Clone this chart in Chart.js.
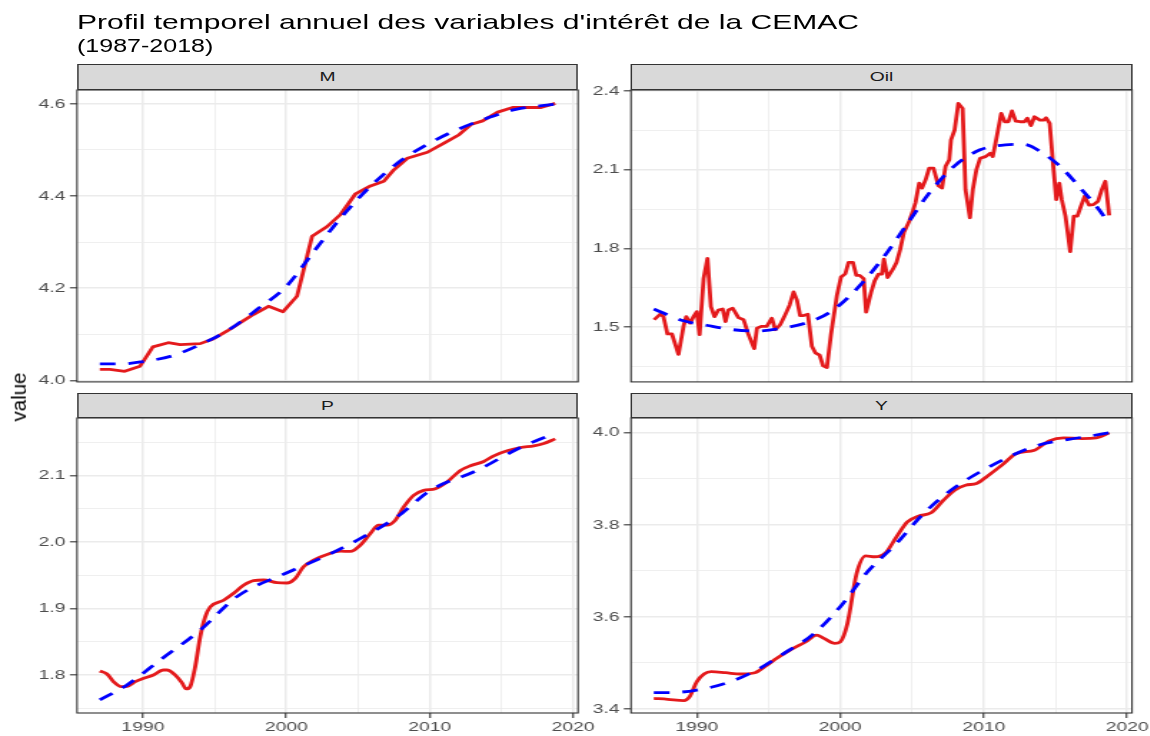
<!DOCTYPE html>
<html><head><meta charset="utf-8">
<script src="https://cdn.jsdelivr.net/npm/chart.js@4"></script>
<style>
html,body{margin:0;padding:0;background:#fff;width:1150px;height:736px;overflow:hidden;font-family:"Liberation Sans",Arial,sans-serif;}
#stage{position:absolute;left:0;top:0;width:805px;height:736px;transform:scaleX(1.43);transform-origin:0 0;}
canvas{position:absolute;}
.strip{position:absolute;box-sizing:border-box;background:#D9D9D9;border:1px solid #333;color:#1A1A1A;font-size:13.5px;text-align:center;z-index:2;}
.txt{position:absolute;white-space:nowrap;color:#000;}
#ylab{position:absolute;left:19px;top:397px;font-size:20.5px;line-height:20.5px;transform:translate(-50%,-50%) rotate(-90deg);white-space:nowrap;color:#000;}
</style></head>
<body>
<div id="stage">
  <div class="txt" style="left:53.85px;top:10.5px;font-size:21px;line-height:21px;">Profil temporel annuel des variables d'intérêt de la CEMAC</div>
  <div class="txt" style="left:53.85px;top:38px;font-size:17.5px;line-height:17.5px;">(1987-2018)</div>
</div>
<div id="ylab">value</div>
<script>
// ---- data ----
const mYears = [1987.0, 1987.7, 1988.74, 1989.8, 1990.7, 1991.77, 1992.6, 1994.0, 1994.9, 1995.85, 1996.77, 1997.7, 1998.76, 1999.77, 2000.75, 2001.8, 2002.85, 2003.78, 2004.83, 2005.87, 2006.8, 2007.5, 2008.44, 2009.84, 2011.0, 2012.05, 2012.87, 2013.69, 2014.74, 2015.78, 2017.76, 2018.75];
const mValues = [4.024, 4.024, 4.020, 4.031, 4.073, 4.082, 4.078, 4.080, 4.090, 4.107, 4.125, 4.143, 4.161, 4.149, 4.183, 4.313, 4.334, 4.360, 4.405, 4.422, 4.432, 4.457, 4.482, 4.495, 4.515, 4.533, 4.555, 4.563, 4.582, 4.592, 4.592, 4.601];
const mTrendYears = [1987, 1988.5, 1990, 1992, 1994, 1996, 1998, 2000, 2002, 2004, 2006, 2008, 2010, 2012, 2014, 2016, 2018.75];
const mTrendValues = [4.036, 4.036, 4.041, 4.053, 4.078, 4.110, 4.155, 4.204, 4.283, 4.360, 4.425, 4.477, 4.515, 4.545, 4.569, 4.588, 4.599];

const oilYears = [1987.02, 1987.44, 1987.67, 1987.95, 1988.26, 1988.72, 1989.07, 1989.26, 1989.53, 1989.77, 1990.0, 1990.19, 1990.47, 1990.74, 1990.98, 1991.23, 1991.5, 1991.8, 1992.0, 1992.2, 1992.5, 1992.9, 1993.26, 1993.6, 1994.0, 1994.19, 1994.53, 1994.88, 1995.23, 1995.47, 1995.81, 1996.1, 1996.47, 1996.74, 1996.98, 1997.2, 1997.44, 1997.74, 1998.02, 1998.26, 1998.56, 1998.8, 1999.07, 1999.35, 1999.77, 2000.05, 2000.35, 2000.58, 2000.88, 2001.12, 2001.35, 2001.63, 2001.8, 2002.15, 2002.4, 2002.66, 2002.9, 2003.04, 2003.3, 2003.67, 2003.92, 2004.18, 2004.43, 2004.81, 2005.06, 2005.24, 2005.5, 2005.7, 2005.95, 2006.2, 2006.5, 2006.84, 2007.09, 2007.34, 2007.6, 2007.72, 2007.97, 2008.23, 2008.53, 2008.73, 2009.04, 2009.24, 2009.49, 2009.75, 2010.13, 2010.46, 2010.63, 2010.89, 2011.22, 2011.47, 2011.72, 2011.97, 2012.23, 2012.53, 2012.84, 2013.04, 2013.29, 2013.54, 2013.92, 2014.18, 2014.35, 2014.6, 2014.81, 2015.06, 2015.27, 2015.44, 2015.7, 2016.03, 2016.28, 2016.53, 2016.78, 2017.04, 2017.34, 2017.65, 2017.97, 2018.23, 2018.48, 2018.75];
const oilValues = [1.528, 1.549, 1.540, 1.474, 1.474, 1.396, 1.503, 1.540, 1.515, 1.540, 1.559, 1.471, 1.685, 1.762, 1.578, 1.540, 1.565, 1.569, 1.521, 1.565, 1.572, 1.536, 1.528, 1.471, 1.418, 1.496, 1.503, 1.503, 1.534, 1.490, 1.509, 1.540, 1.584, 1.634, 1.603, 1.544, 1.544, 1.549, 1.427, 1.402, 1.393, 1.352, 1.346, 1.471, 1.622, 1.691, 1.703, 1.747, 1.747, 1.697, 1.697, 1.685, 1.557, 1.633, 1.677, 1.702, 1.702, 1.759, 1.689, 1.721, 1.746, 1.797, 1.860, 1.904, 1.942, 1.974, 2.049, 2.030, 2.062, 2.106, 2.106, 2.039, 2.030, 2.113, 2.138, 2.214, 2.251, 2.353, 2.334, 2.024, 1.917, 2.024, 2.100, 2.144, 2.150, 2.163, 2.150, 2.220, 2.315, 2.283, 2.283, 2.324, 2.285, 2.283, 2.283, 2.296, 2.268, 2.302, 2.289, 2.289, 2.298, 2.277, 2.138, 1.986, 2.049, 1.986, 1.923, 1.788, 1.923, 1.923, 1.961, 1.999, 1.965, 1.967, 1.980, 2.024, 2.056, 1.926];
const oilTrendYears = [1987, 1989, 1990.76, 1992.53, 1994.05, 1996.08, 1997.85, 1999.37, 2001.14, 2002.91, 2004.68, 2006.2, 2007.97, 2009.75, 2011.52, 2012.78, 2014.05, 2015.32, 2016.84, 2017.85, 2018.75];
const oilTrendValues = [1.569, 1.525, 1.506, 1.490, 1.485, 1.497, 1.520, 1.560, 1.645, 1.759, 1.894, 2.011, 2.115, 2.176, 2.195, 2.197, 2.166, 2.113, 2.024, 1.961, 1.895];

const pYears = [1987.0, 1987.5, 1987.95, 1988.5, 1988.9, 1989.47, 1990.05, 1990.74, 1991.44, 1991.67, 1992.26, 1992.72, 1993.02, 1993.3, 1993.65, 1994.0, 1994.35, 1994.7, 1995.63, 1996.33, 1997.02, 1997.72, 1998.42, 1999.35, 2000.05, 2000.63, 2001.2, 2001.9, 2002.84, 2003.77, 2004.47, 2005.16, 2005.86, 2006.44, 2007.02, 2007.6, 2008.19, 2008.88, 2009.58, 2010.4, 2011.2, 2012.14, 2012.84, 2013.77, 2014.47, 2015.4, 2016.33, 2017.26, 2017.95, 2018.75];
const pValues = [1.806, 1.8015, 1.790, 1.7825, 1.783, 1.790, 1.795, 1.800, 1.8075, 1.8075, 1.800, 1.7885, 1.779, 1.7825, 1.8125, 1.8575, 1.8875, 1.9025, 1.9125, 1.923, 1.935, 1.942, 1.943, 1.939, 1.9385, 1.9455, 1.963, 1.973, 1.9815, 1.9865, 1.986, 1.9955, 2.013, 2.0255, 2.0255, 2.033, 2.053, 2.0705, 2.078, 2.0805, 2.0905, 2.108, 2.115, 2.1215, 2.130, 2.1375, 2.1425, 2.145, 2.1485, 2.1555];
const pTrendYears = [1987, 1988.9, 1991.2, 1994.0, 1996.56, 2000.05, 2002.84, 2005.16, 2007.72, 2010.05, 2013.3, 2016.33, 2018.75];
const pTrendValues = [1.7625, 1.785, 1.8225, 1.8675, 1.918, 1.954, 1.980, 2.0055, 2.038, 2.078, 2.108, 2.1425, 2.164];

const yYears = [1987.0, 1987.97, 1989.1, 1989.5, 1990.0, 1990.5, 1991.0, 1992.0, 1993.04, 1994.05, 1994.8, 1995.57, 1996.58, 1997.6, 1998.35, 1998.86, 1999.62, 2000.0, 2000.5, 2001.14, 2001.77, 2002.4, 2003.16, 2003.92, 2004.68, 2005.44, 2006.33, 2007.2, 2007.97, 2008.73, 2009.5, 2010.25, 2011.27, 2012.28, 2013.54, 2014.56, 2015.57, 2016.84, 2017.85, 2018.75];
const yValues = [3.4231, 3.421, 3.418, 3.4268, 3.4593, 3.476, 3.481, 3.4788, 3.476, 3.4788, 3.4933, 3.510, 3.5295, 3.546, 3.5606, 3.5533, 3.5425, 3.546, 3.5859, 3.6944, 3.7327, 3.7306, 3.7392, 3.774, 3.8065, 3.8188, 3.826, 3.8535, 3.8752, 3.886, 3.8897, 3.9056, 3.9295, 3.9548, 3.962, 3.9823, 3.9888, 3.9873, 3.9888, 3.9996];
const yTrendYears = [1987, 1988.1, 1990, 1992, 1994.05, 1996.08, 1998.1, 2000, 2001.9, 2003.92, 2005.7, 2007.72, 2009.75, 2011.77, 2013.8, 2015.82, 2017.34, 2018.75];
const yTrendValues = [3.4354, 3.4354, 3.4412, 3.4557, 3.4825, 3.5208, 3.562, 3.622, 3.698, 3.7595, 3.821, 3.8752, 3.915, 3.9476, 3.9729, 3.985, 3.9924, 3.9996];

const facetNames = ['M', 'Oil', 'P', 'Y'];
const xTicksMajor = [1990, 2000, 2010, 2020];

// ---- layout / style ----
const S = 1.43;
const X_MIN = 1985.41, X_MAX = 2020.34;
const RED = '#E41A1C', BLUE = '#0000FF';
Chart.defaults.font.family = '"Liberation Sans", Arial, sans-serif';

function pts(xs, ys) { return xs.map((x, i) => ({x: x, y: ys[i]})); }

const panels = [
  {name: facetNames[0], box: [77, 578, 90, 383], stripTop: 64, yr: [3.997, 4.630], step: 0.1, major: 0.2, bottom: false, smooth: false, s: pts(mYears, mValues), t: pts(mTrendYears, mTrendValues)},
  {name: facetNames[1], box: [631, 1132, 90, 383], stripTop: 64, yr: [1.291, 2.404], step: 0.15, major: 0.3, bottom: false, smooth: false, s: pts(oilYears, oilValues), t: pts(oilTrendYears, oilTrendValues)},
  {name: facetNames[2], box: [77, 578, 418, 713], stripTop: 393, yr: [1.7428, 2.1869], step: 0.05, major: 0.1, bottom: true, smooth: true, s: pts(pYears, pValues), t: pts(pTrendYears, pTrendValues)},
  {name: facetNames[3], box: [631, 1132, 418, 713], stripTop: 393, yr: [3.3913, 4.0319], step: 0.1, major: 0.2, bottom: true, smooth: true, s: pts(yYears, yValues), t: pts(yTrendYears, yTrendValues)}
];

const borderPlugin = {
  id: 'panelBorder',
  afterDraw(chart) {
    const {ctx, chartArea: a} = chart;
    ctx.save();
    ctx.strokeStyle = '#333333';
    ctx.lineWidth = 1.1;
    ctx.strokeRect(a.left, a.top, a.right - a.left, a.bottom - a.top);
    ctx.restore();
  }
};

const stage = document.getElementById('stage');
function isMult(v, m) { const r = v / m; return Math.abs(r - Math.round(r)) < 1e-6; }

panels.forEach(p => {
  const L = p.box[0] / S, R = p.box[1] / S, W = R - L, H = p.box[3] - p.box[2];
  const PT = 12, PB = p.bottom ? 0 : 10, XH = p.bottom ? 28 : 0;
  const cl = Math.floor(L - 42);
  const yw = L - cl;
  const cw = Math.ceil(yw + W + 26);
  const pr = cw - yw - W;
  const ct = p.box[2] - PT;
  const ch = PT + H + XH + PB;

  const strip = document.createElement('div');
  strip.className = 'strip';
  const sh = p.box[2] - p.stripTop;
  strip.style.cssText = `left:${L}px;top:${p.stripTop}px;width:${W}px;height:${sh}px;line-height:${sh - 2}px;`;
  strip.textContent = p.name;

  const cv = document.createElement('canvas');
  cv.width = cw; cv.height = ch;
  cv.style.cssText = `left:${cl}px;top:${ct}px;width:${cw}px;height:${ch}px;`;
  stage.appendChild(cv);
  stage.appendChild(strip);

  new Chart(cv.getContext('2d'), {
    type: 'line',
    data: {
      datasets: [
        {data: p.t, borderColor: BLUE, borderWidth: 2.8, borderDash: [11, 9], borderCapStyle: 'butt', pointRadius: 0, fill: false, cubicInterpolationMode: 'monotone'},
        {data: p.s, borderColor: RED, borderWidth: 2.8, pointRadius: 0, fill: false, tension: 0, cubicInterpolationMode: p.smooth ? 'monotone' : 'default', borderJoinStyle: 'round'}
      ]
    },
    options: {
      responsive: false, animation: false, devicePixelRatio: 1,
      layout: {padding: {left: 0, right: pr, top: PT, bottom: PB}},
      plugins: {legend: {display: false}, tooltip: {enabled: false}},
      scales: {
        x: {
          type: 'linear', min: X_MIN, max: X_MAX,
          afterFit: s => { s.height = XH; },
          border: {display: false},
          grid: {
            color: '#EBEBEB',
            lineWidth: c => (c.tick && xTicksMajor.includes(c.tick.value)) ? 1.5 : 0.8,
            drawTicks: p.bottom, tickLength: 5,
            tickColor: c => (c.tick && xTicksMajor.includes(c.tick.value)) ? '#333333' : 'rgba(0,0,0,0)',
            tickWidth: 1.1
          },
          ticks: {
            display: p.bottom, stepSize: 5, includeBounds: false, autoSkip: false, maxRotation: 0,
            padding: 1, color: '#4D4D4D', font: {size: 13.5},
            callback: v => xTicksMajor.includes(v) ? String(v) : ''
          }
        },
        y: {
          type: 'linear', min: p.yr[0], max: p.yr[1],
          afterFit: s => { s.width = yw; },
          border: {display: false},
          grid: {
            color: '#EBEBEB',
            lineWidth: c => (c.tick && isMult(c.tick.value, p.major)) ? 1.6 : 0.8,
            drawTicks: true, tickLength: 5,
            tickColor: c => (c.tick && isMult(c.tick.value, p.major)) ? '#333333' : 'rgba(0,0,0,0)',
            tickWidth: 1.1
          },
          ticks: {
            stepSize: p.step, includeBounds: false, autoSkip: false, padding: 3,
            color: '#4D4D4D', font: {size: 13.5},
            callback: v => isMult(v, p.major) ? v.toFixed(1) : ''
          }
        }
      }
    },
    plugins: [borderPlugin]
  });
});
</script>
</body></html>
